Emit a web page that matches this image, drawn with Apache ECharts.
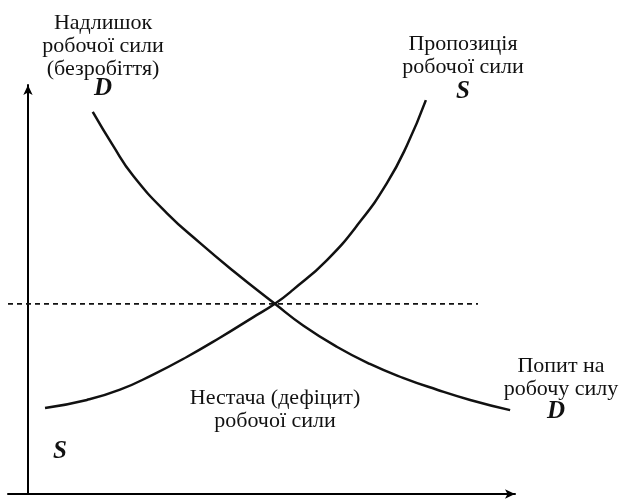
<!DOCTYPE html>
<html>
<head>
<meta charset="utf-8">
<script src="https://cdn.jsdelivr.net/npm/echarts@6/dist/echarts.min.js"></script>
<style>
  html, body { margin: 0; padding: 0; background: #fff; }
  #chart { width: 621px; height: 500px; }
</style>
</head>
<body>
<div id="chart"></div>
<script>
// крива пропозиції S (кількість, ставка)
var supplyX = [3.5, 12.1, 18.9, 25.7, 32.6, 39.4, 46.2, 50.7, 54.4, 61.4, 68.2, 73.7, 77.8, 81.7];
var supplyY = [21.0, 23.0, 25.5, 29.2, 33.5, 38.2, 43.2, 46.5, 49.9, 57.2, 66.6, 76.0, 85.2, 96.3];

// крива попиту D
var demandX = [13.3, 17.5, 21.6, 28.5, 35.3, 42.1, 50.7, 56.5, 63.4, 70.2, 77.0, 84.0, 90.8, 99.0];
var demandY = [93.4, 85.1, 77.8, 68.7, 61.4, 54.6, 46.5, 41.2, 36.0, 31.8, 28.4, 25.5, 23.0, 20.5];

// рівноважна ставка (пунктир)
var equilX = [-4.1, 92.4];
var equilY = [46.5, 46.5];

function pairs(xs, ys) {
    return xs.map(function (x, i) { return [x, ys[i]]; });
}

var chartDom = document.getElementById('chart');
var myChart = echarts.init(chartDom, null, { renderer: 'canvas' });
var option;

var font = '"Liberation Serif", "DejaVu Serif", serif';

function txt(x, y, text, size, extra) {
    var st = {
        text: text,
        x: x,
        y: y,
        align: 'center',
        verticalAlign: 'middle',
        fill: '#111',
        font: size + 'px ' + font,
        lineHeight: 23
    };
    if (extra) st.font = extra + ' ' + size + 'px ' + font;
    return { type: 'text', style: st, z: 10 };
}

option = {
    animation: false,
    backgroundColor: '#fff',
    grid: {
        left: 8,
        top: 85,
        width: 507,
        height: 409,
        containLabel: false
    },
    xAxis: {
        type: 'value',
        min: -4.1,
        max: 100,
        axisLine: {
            show: true,
            onZero: false,
            symbol: ['none', 'arrow'],
            symbolSize: [7, 10],
            lineStyle: { color: '#000', width: 2 }
        },
        axisTick: { show: false },
        axisLabel: { show: false },
        splitLine: { show: false }
    },
    yAxis: {
        type: 'value',
        min: 0,
        max: 100,
        axisLine: {
            show: true,
            onZero: true,
            symbol: ['none', 'arrow'],
            symbolSize: [7, 10],
            lineStyle: { color: '#000', width: 2 }
        },
        axisTick: { show: false },
        axisLabel: { show: false },
        splitLine: { show: false }
    },
    series: [
        {
            name: 'S',
            type: 'line',
            data: pairs(supplyX, supplyY),
            smooth: 0.5,
            showSymbol: false,
            clip: false,
            lineStyle: { color: '#111', width: 2.5 }
        },
        {
            name: 'D',
            type: 'line',
            data: pairs(demandX, demandY),
            smooth: 0.5,
            showSymbol: false,
            clip: false,
            lineStyle: { color: '#111', width: 2.5 }
        },
        {
            name: 'рівновага',
            type: 'line',
            data: pairs(equilX, equilY),
            showSymbol: false,
            clip: false,
            lineStyle: { color: '#111', width: 1.8, type: [5, 4] }
        }
    ],
    graphic: [
        txt(103, 46, 'Надлишок\nробочої сили\n(безробіття)', 22),
        txt(463, 56, 'Пропозиція\nробочої сили', 22),
        txt(275, 410, 'Нестача (дефіцит)\nробочої сили', 22),
        txt(561, 378, 'Попит на\nробочу силу', 22),
        txt(103, 89, 'D', 25, 'italic bold'),
        txt(463, 92, 'S', 25, 'italic bold'),
        txt(60, 452, 'S', 25, 'italic bold'),
        txt(556, 412, 'D', 25, 'italic bold')
    ]
};

option && myChart.setOption(option);
</script>
</body>
</html>
